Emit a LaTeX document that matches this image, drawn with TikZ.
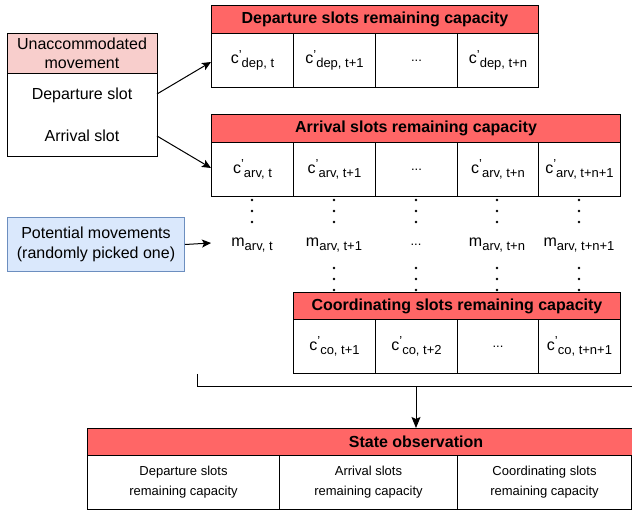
\documentclass[tikz,border=0pt]{standalone}
\usepackage{fontspec}
\setmainfont{Liberation Sans}
\usetikzlibrary{arrows.meta}
\definecolor{hdrred}{HTML}{FF6666}
\definecolor{hdrpink}{HTML}{F8CECC}
\definecolor{potfill}{HTML}{DAE8FC}
\definecolor{potline}{HTML}{6C8EBF}

% value labels: c' with a subscript, and m with a subscript
\newcommand{\cval}[1]{\fontsize{16}{18}\selectfont c\raisebox{4.5pt}{\fontsize{13}{13}\selectfont\symbol{"0027}}\raisebox{-4pt}{\fontsize{13}{13}\selectfont #1}}
\newcommand{\mval}[1]{\fontsize{16}{18}\selectfont m\raisebox{-4pt}{\fontsize{13}{13}\selectfont #1}}

\tikzset{
  box/.style={draw=black, line width=1pt, rectangle, inner sep=0pt, anchor=north west},
  hdr/.style={box, fill=hdrred, minimum height=28pt, font=\fontsize{16}{18}\selectfont\bfseries},
  cell/.style={box, minimum width=82pt, minimum height=54pt},
  statecell/.style={box, minimum height=54pt, align=center, font=\fontsize{13}{20}\selectfont},
  plain/.style={inner sep=0pt, align=center},
  arr/.style={line width=1pt, -{Stealth[length=9pt,width=8pt,inset=2pt]}},
  link/.style={line width=1pt}
}

\begin{document}
\begin{tikzpicture}[x=1pt, y=-1pt]
\clip (0,0) rectangle (632,510);
\fill[white] (0,0) rectangle (632,510);

% unaccommodated movement
\node[box, minimum width=150pt, minimum height=123pt] (umov) at (7,33) {};
\node[box, fill=hdrpink, minimum width=150pt, minimum height=40pt] (umovh) at (7,33) {};
\node[plain, font=\fontsize{16}{19}\selectfont] (umovt) at (82,53) {Unaccommodated\\movement};
\node[plain, font=\fontsize{16}{18}\selectfont] (udep) at (82,95) {Departure slot};
\node[plain, font=\fontsize{16}{18}\selectfont] (uarr) at (82,136) {Arrival slot};
\coordinate (udepout) at (157,94);
\coordinate (uarrout) at (157,136);

% departure slots
\node[hdr, minimum width=327pt] (dh) at (211,5) {};
\node[plain, font=\fontsize{16}{18}\selectfont\bfseries] at (dh.center) {Departure slots remaining capacity};
\node[cell] (d1) at (211,33) {\cval{dep, t}};
\node[cell] (d2) at (293,33) {\cval{dep, t+1}};
\node[cell] (d3) at (375,33) {\fontsize{13}{13}\selectfont ...};
\node[cell, minimum width=81pt] (d4) at (457,33) {\cval{dep, t+n}};
\coordinate (din) at (211,62);

% arrival slots
\node[hdr, minimum width=409pt] (ah) at (211,114) {};
\node[plain, font=\fontsize{16}{18}\selectfont\bfseries] at (ah.center) {Arrival slots remaining capacity};
\node[cell] (a1) at (211,142) {\cval{arv, t}};
\node[cell] (a2) at (293,142) {\cval{arv, t+1}};
\node[cell] (a3) at (375,142) {\fontsize{13}{13}\selectfont ...};
\node[cell, minimum width=81pt] (a4) at (457,142) {\cval{arv, t+n}};
\node[cell] (a5) at (538,142) {\cval{arv, t+n+1}};
\coordinate (ain) at (211,168);

\draw[arr] (udepout) -- (din);
\draw[arr] (uarrout) -- (ain);

% potential movements
\node[box, fill=potfill, draw=potline, minimum width=177pt, minimum height=54pt] (pot) at (7,217) {};
\node[plain, font=\fontsize{16}{20}\selectfont] at (pot.center) {Potential movements\\(randomly picked one)};
\coordinate (mtarget) at (211,243);
\draw[arr] (pot.east) -- (mtarget);

% movement labels
\node[plain] (m1) at (252,245) {\mval{arv, t}};
\node[plain] (m2) at (334,245) {\mval{arv, t+1}};
\node[plain] (m3) at (416,245) {\fontsize{13}{13}\selectfont ...};
\node[plain] (m4) at (497,245) {\mval{arv, t+n}};
\node[plain] (m5) at (579,245) {\mval{arv, t+n+1}};

% vertical dots
\foreach \x in {252,334,416,497,579}
  \foreach \y in {200,211,222}
    \fill (\x,\y) circle (1.4pt);
\foreach \x in {334,416,497,579}
  \foreach \y in {268,279,290}
    \fill (\x,\y) circle (1.4pt);

% coordinating slots
\node[hdr, minimum width=327pt, minimum height=27pt] (ch) at (293,292) {};
\node[plain, font=\fontsize{16}{18}\selectfont\bfseries] at (ch.center) {Coordinating slots remaining capacity};
\node[cell] (c1) at (293,319) {\cval{co, t+1}};
\node[cell] (c2) at (375,319) {\cval{co, t+2}};
\node[cell, minimum width=81pt] (c3) at (457,319) {\fontsize{13}{13}\selectfont ...};
\node[cell] (c4) at (538,319) {\cval{co, t+n+1}};

% gathering line and arrow to the state
\coordinate (gl) at (197,374);
\coordinate (gc) at (197,387);
\coordinate (gr) at (645,387);
\coordinate (gm) at (416,387);
\draw[link] (gl) -- (gc) -- (gr);

% state observation
\node[hdr, minimum width=560pt, minimum height=27pt] (sh) at (87,428) {};
\node[plain, font=\fontsize{16}{18}\selectfont\bfseries] at (416,441.5) {State observation};
\node[statecell, minimum width=192pt] (s1) at (87,455) {Departure slots\\remaining capacity};
\node[statecell, minimum width=178pt] (s2) at (279,455) {Arrival slots\\remaining capacity};
\node[statecell, minimum width=174pt] (s3) at (457,455) {Coordinating slots\\remaining capacity};
\draw[box, line width=1pt] (87,509) -- (645,509);
\draw[arr, -{Stealth[length=11pt,width=9pt,inset=2pt]}] (gm) -- (sh.north -| gm);
\end{tikzpicture}
\end{document}
